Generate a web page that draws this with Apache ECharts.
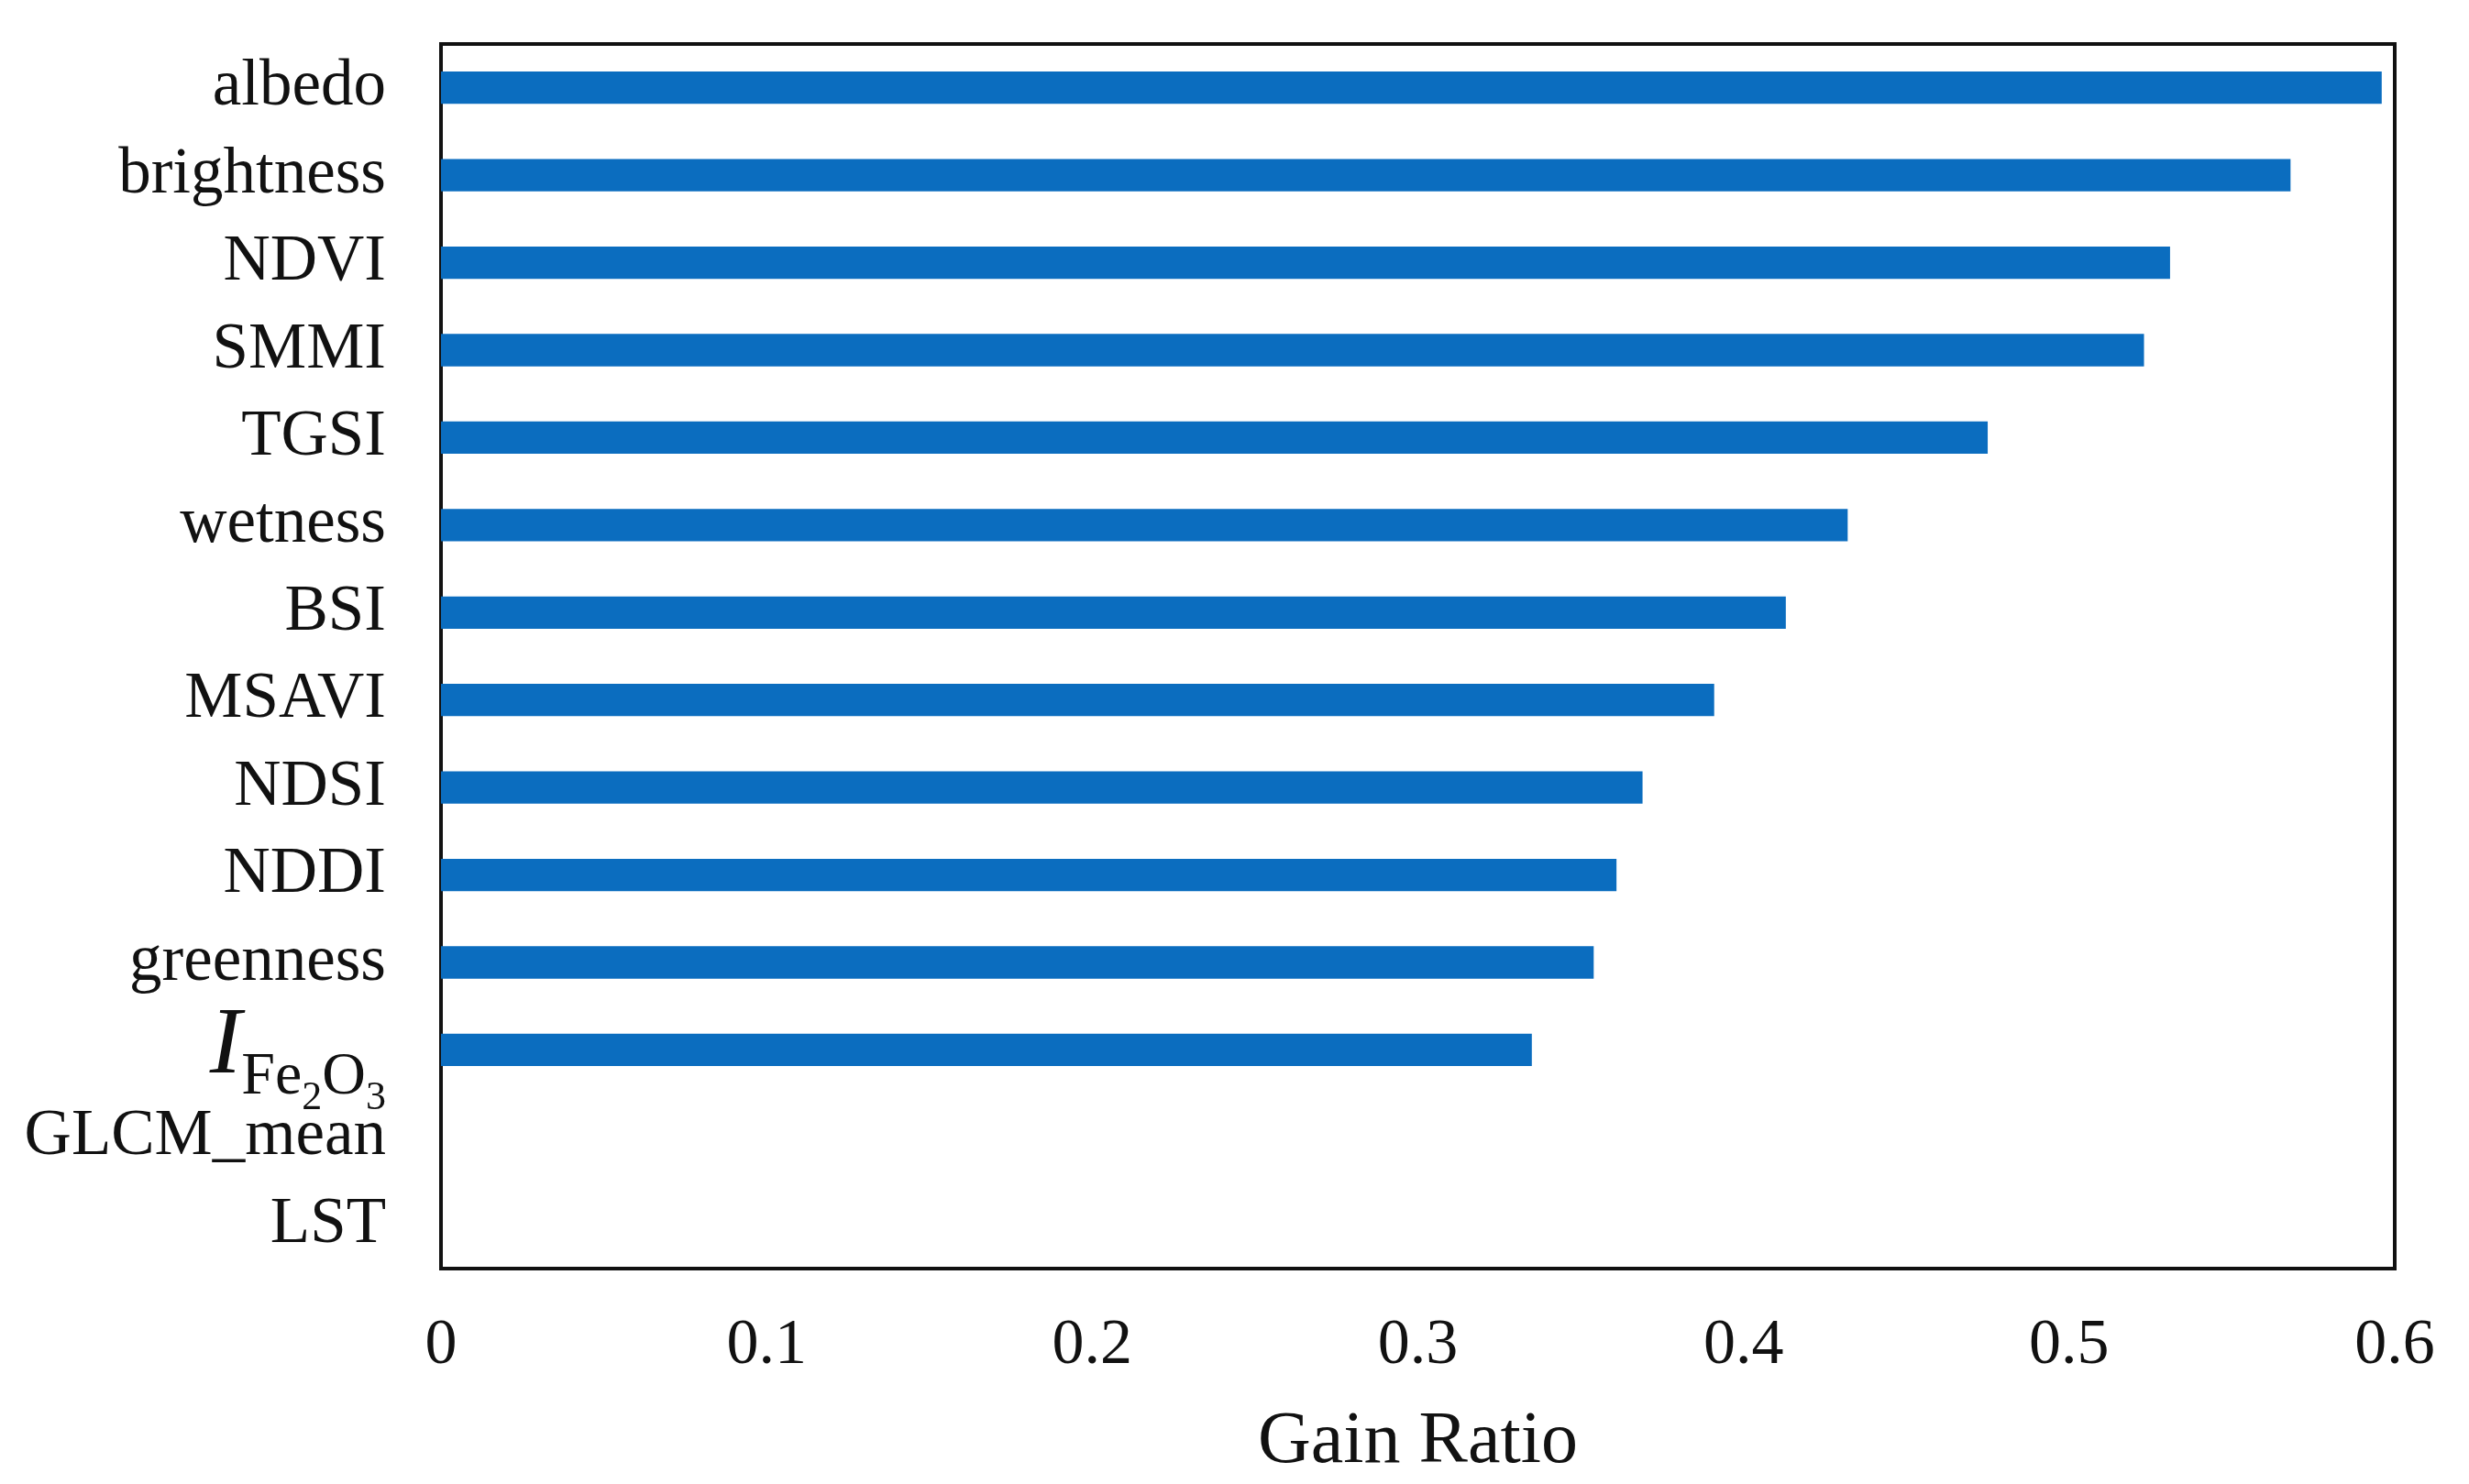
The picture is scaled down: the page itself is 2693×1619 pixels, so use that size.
<!DOCTYPE html>
<html>
<head>
<meta charset="utf-8">
<script src="https://cdn.jsdelivr.net/npm/echarts@6/dist/echarts.min.js"></script>
<style>html,body{margin:0;padding:0;background:#fff;}#c{width:2693px;height:1619px;}</style>
</head>
<body>
<div id="c"></div>
<script>
const categories = ['albedo','brightness','NDVI','SMMI','TGSI','wetness','BSI','MSAVI','NDSI','NDDI','greenness','IFe2O3','GLCM_mean','LST'];
const gainRatio = [0.596,0.568,0.531,0.523,0.475,0.432,0.413,0.391,0.369,0.361,0.354,0.335,0,0];
const xTicks = {min:0, max:0.6, interval:0.1};
const xName = 'Gain Ratio';

const chart = echarts.init(document.getElementById('c'));
const font = '"Liberation Serif","Times New Roman",serif';
chart.setOption({
  backgroundColor:'#fff',
  animation:false,
  grid:{left:481, right:81, top:48, bottom:220, show:true, borderColor:'#111', borderWidth:4, backgroundColor:'transparent'},
  xAxis:{
    type:'value', min:xTicks.min, max:xTicks.max, interval:xTicks.interval,
    name:xName, nameLocation:'middle', nameGap:150,
    nameTextStyle:{fontFamily:font, fontSize:80, color:'#111'},
    axisLine:{show:false}, axisTick:{show:false}, splitLine:{show:false},
    axisLabel:{fontFamily:font, fontSize:70, color:'#111', margin:50}
  },
  yAxis:{
    type:'category', data:categories, inverse:true,
    axisLine:{show:false}, axisTick:{show:false}, splitLine:{show:false},
    axisLabel:{
      fontFamily:font, fontSize:71, color:'#111', margin:60,
      formatter:function(v){
        if(v==='IFe2O3') return '{i|I}{s|Fe}{sub|2}{s|O}{sub|3}';
        return v;
      },
      rich:{
        i:{fontFamily:font, fontStyle:'italic', fontSize:104, color:'#111', verticalAlign:'bottom', padding:[0,0,6,0]},
        s:{fontFamily:font, fontSize:66, color:'#111', verticalAlign:'bottom', padding:[0,0,-8,0]},
        sub:{fontFamily:font, fontSize:44, color:'#111', verticalAlign:'bottom', padding:[0,0,-20,0]}
      }
    }
  },
  series:[{
    type:'bar', data:gainRatio, barWidth:'37%',
    itemStyle:{color:'#0B6DBF'}
  }]
});
</script>
</body>
</html>
